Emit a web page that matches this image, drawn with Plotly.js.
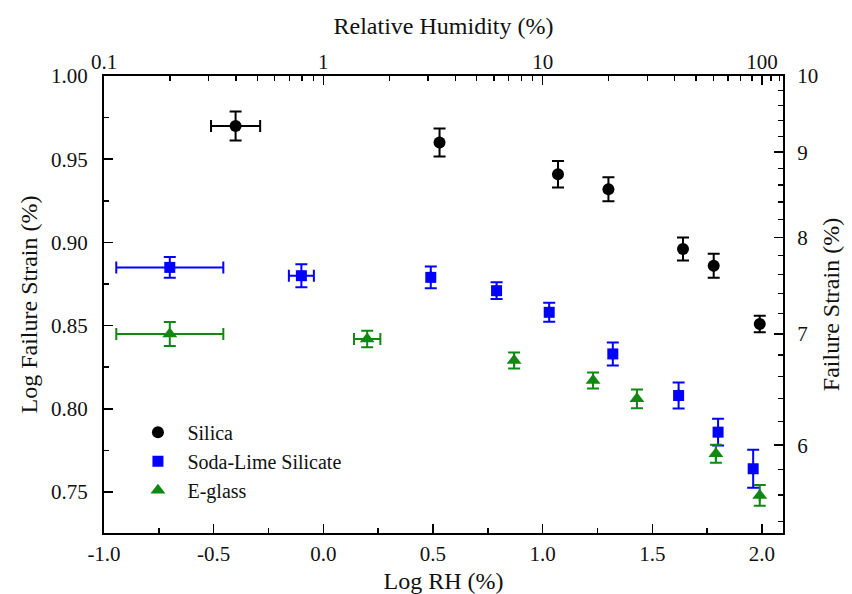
<!DOCTYPE html>
<html>
<head>
<meta charset="utf-8">
<script src="https://cdn.plot.ly/plotly-3.0.1.min.js"></script>
<style>html,body{margin:0;padding:0;background:#fff;}#chart{width:852px;height:594px;}</style>
</head>
<body>
<div id="chart"></div>
<script>
// Silica
const silicaX = [-0.40, 0.53, 1.07, 1.30, 1.64, 1.78, 1.99];
const silicaY = [0.970, 0.960, 0.941, 0.932, 0.896, 0.886, 0.851];
const silicaYErr = [0.0087, 0.0084, 0.0080, 0.0072, 0.0069, 0.0072, 0.0050];
const silicaXErr = [0.112, 0, 0, 0, 0, 0, 0];
// Soda-Lime Silicate
const sodaX = [-0.70, -0.10, 0.49, 0.79, 1.03, 1.32, 1.62, 1.80, 1.96];
const sodaY = [0.885, 0.880, 0.879, 0.871, 0.858, 0.833, 0.808, 0.786, 0.764];
const sodaYErr = [0.0063, 0.0069, 0.0066, 0.0050, 0.0057, 0.0069, 0.0078, 0.0080, 0.0114];
const sodaXErr = [0.244, 0.057, 0, 0, 0, 0, 0, 0, 0];
// E-glass
const eglassX = [-0.70, 0.20, 0.87, 1.23, 1.43, 1.79, 1.99];
const eglassY = [0.845, 0.842, 0.829, 0.817, 0.806, 0.773, 0.748];
const eglassYErr = [0.0072, 0.0050, 0.0048, 0.0048, 0.0057, 0.0054, 0.0063];
const eglassXErr = [0.244, 0.060, 0, 0, 0, 0, 0];

// Tick labels
const bottomTicks = [-1.0, -0.5, 0.0, 0.5, 1.0, 1.5, 2.0];
const bottomTickText = ['-1.0', '-0.5', '0.0', '0.5', '1.0', '1.5', '2.0'];
const bottomMinor = [-0.75, -0.25, 0.25, 0.75, 1.25, 1.75];
const leftTicks = [0.75, 0.80, 0.85, 0.90, 0.95, 1.00];
const leftTickText = ['0.75', '0.80', '0.85', '0.90', '0.95', '1.00'];
const leftMinor = [0.775, 0.825, 0.875, 0.925, 0.975];
const topTicks = [0.1, 1, 10, 100];
const topTickText = ['0.1', '1', '10', '100'];
const topMinor = [0.2,0.3,0.4,0.5,0.6,0.7,0.8,0.9,2,3,4,5,6,7,8,9,20,30,40,50,60,70,80,90,110,120];
const rightTicks = [6, 7, 8, 9, 10];
const rightTickText = ['6', '7', '8', '9', '10'];
const rightMinor = [5.4,5.6,5.8,6.2,6.4,6.6,6.8,7.2,7.4,7.6,7.8,8.2,8.4,8.6,8.8,9.2,9.4,9.6,9.8];

const FONT = '"Times New Roman", "Liberation Serif", Times, "DejaVu Serif", serif';
const BLACK = '#000000', BLUE = '#0000ff', GREEN = '#118811';

function series(name, x, y, ex, ey, color, symbol, size) {
  return {
    type: 'scatter', mode: 'markers', name: name, x: x, y: y,
    marker: {color: color, symbol: symbol, size: size, line: {width: 0}},
    error_y: {type: 'data', array: ey, visible: true, color: color, thickness: 2, width: 6},
    error_x: {type: 'data', array: ex, visible: true, color: color, thickness: 2, width: 6},
    xaxis: 'x', yaxis: 'y'
  };
}

const traces = [
  series('Silica', silicaX, silicaY, silicaXErr, silicaYErr, BLACK, 'circle', 12),
  series('Soda-Lime Silicate', sodaX, sodaY, sodaXErr, sodaYErr, BLUE, 'square', 11),
  series('E-glass', eglassX, eglassY, eglassXErr, eglassYErr, GREEN, 'triangle-up', 13),
  {type: 'scatter', x: [], y: [], xaxis: 'x2', yaxis: 'y2', showlegend: false, hoverinfo: 'skip'}
];

const yMin = 0.7254, yMax = 1.0, xMin = -1.0, xMax = 2.096;

const axisCommon = {
  showline: true, linecolor: '#000', linewidth: 2, mirror: false,
  ticks: 'inside', ticklen: 9, tickwidth: 1.5, tickcolor: '#000',
  showgrid: false, zeroline: false,
  tickfont: {family: FONT, size: 21, color: '#111'},
  tickmode: 'array'
};

const layout = {
  width: 852, height: 594,
  margin: {l: 104, r: 69, t: 76, b: 61, pad: 0},
  paper_bgcolor: '#ffffff', plot_bgcolor: '#ffffff',
  font: {family: FONT, color: '#111'},
  showlegend: true,
  legend: {
    x: 0.036, y: 0.263, xanchor: 'left', yanchor: 'top',
    font: {family: FONT, size: 20, color: '#111'},
    bgcolor: 'rgba(0,0,0,0)', borderwidth: 0, itemwidth: 49
  },
  xaxis: Object.assign({}, axisCommon, {
    range: [xMin, xMax], side: 'bottom', anchor: 'y',
    tickvals: bottomTicks, ticktext: bottomTickText, ticklabelstandoff: 1,
    minor: {tickmode: 'array', tickvals: bottomMinor, ticks: 'inside', ticklen: 5, tickwidth: 1.5, tickcolor: '#000'},
    title: {text: 'Log RH (%)', font: {family: FONT, size: 24, color: '#111'}, standoff: 7}
  }),
  yaxis: Object.assign({}, axisCommon, {
    range: [yMin, yMax], side: 'left', anchor: 'x',
    tickvals: leftTicks, ticktext: leftTickText, ticklabelstandoff: 10,
    minor: {tickmode: 'array', tickvals: leftMinor, ticks: 'inside', ticklen: 5, tickwidth: 1.5, tickcolor: '#000'},
    title: {text: 'Log Failure Strain (%)', font: {family: FONT, size: 24, color: '#111'}, standoff: 7}
  }),
  xaxis2: Object.assign({}, axisCommon, {
    type: 'log', range: [xMin, xMax], side: 'top', overlaying: 'x', anchor: 'y',
    tickvals: topTicks, ticktext: topTickText, ticklabelstandoff: -3,
    minor: {tickmode: 'array', tickvals: topMinor, ticks: 'inside', ticklen: 5, tickwidth: 1.5, tickcolor: '#000'},
    title: {text: 'Relative Humidity (%)', font: {family: FONT, size: 24, color: '#111'}, standoff: 8}
  }),
  yaxis2: Object.assign({}, axisCommon, {
    type: 'log', range: [yMin, yMax], side: 'right', overlaying: 'y', anchor: 'x',
    tickvals: rightTicks, ticktext: rightTickText, ticklabelstandoff: 8,
    minor: {tickmode: 'array', tickvals: rightMinor, ticks: 'inside', ticklen: 5, tickwidth: 1.5, tickcolor: '#000'},
    title: {text: 'Failure Strain (%)', font: {family: FONT, size: 24, color: '#111'}, standoff: 5}
  })
};

Plotly.newPlot('chart', traces, layout, {staticPlot: true, displayModeBar: false});
</script>
</body>
</html>
